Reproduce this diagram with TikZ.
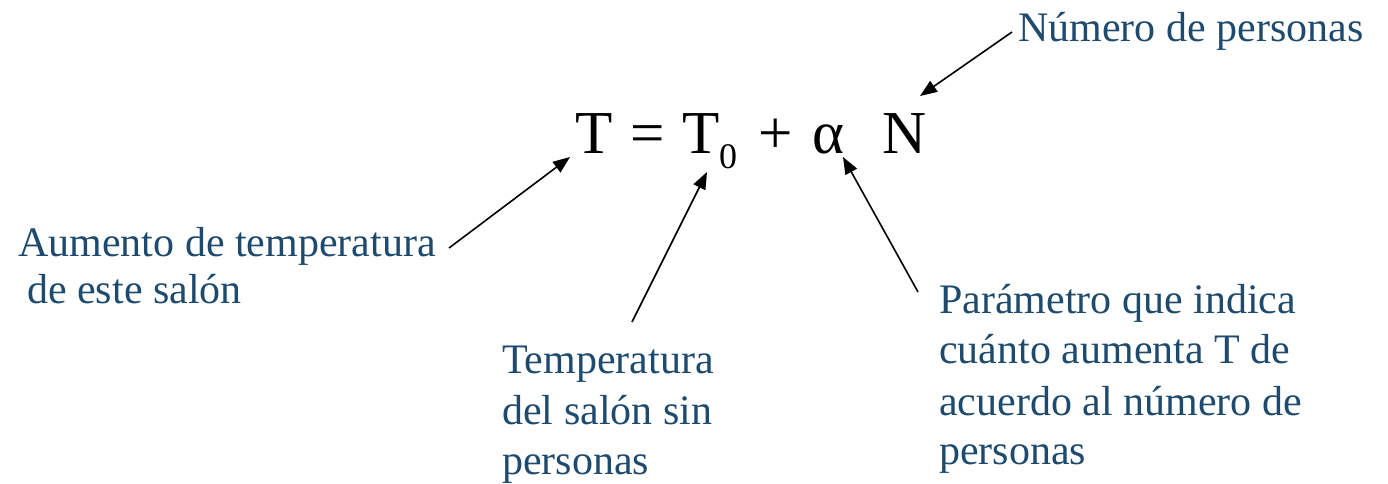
\documentclass[tikz,border=0pt]{standalone}
\usepackage{fontspec}
\setmainfont{Liberation Serif}
\usetikzlibrary{arrows.meta}
\definecolor{lblue}{RGB}{30,74,110}
\tikzset{
  lbl/.style={anchor=base west, inner sep=0pt, text=lblue, font=\fontsize{42}{50}\selectfont},
  eq/.style={anchor=base west, inner sep=0pt, text=black, font=\fontsize{61}{70}\selectfont},
  sub/.style={anchor=base west, inner sep=0pt, text=black, font=\fontsize{36}{40}\selectfont},
  pointer/.style={draw=black, line width=1.6pt, -{Triangle[length=17pt,width=13pt]}}
}
\begin{document}
\begin{tikzpicture}[x=1pt,y=-1pt]
\useasboundingbox (0,0) rectangle (1388,483);
% equation
\node[eq] (T) at (575,153) {T};
\node[eq] (eqs) at (630,153) {=};
\node[eq] (T0) at (682,153) {T};
\node[sub] (zero) at (719,168) {0};
\node[eq] (plus) at (758,153) {+};
\node[eq] (alpha) at (812,153) {α};
\node[eq] (N) at (882,153) {N};
% labels
\node[lbl] (num) at (1018,41) {Número de personas};
\node[lbl] (aum1) at (18,256) {Aumento de temperatura};
\node[lbl] (aum2) at (27,303) {de este salón};
\node[lbl] (tem1) at (502,373) {Temperatura};
\node[lbl] (tem2) at (502,424) {del salón sin};
\node[lbl] (tem3) at (502,474) {personas};
\node[lbl] (par1) at (939,313) {Parámetro que indica};
\node[lbl] (par2) at (939,363) {cuánto aumenta T de};
\node[lbl] (par3) at (939,415) {acuerdo al número de};
\node[lbl] (par4) at (939,464) {personas};
% arrow endpoints
\coordinate (nTail) at (1012,32);
\coordinate (nTip) at (920,96);
\coordinate (aTail) at (449,248);
\coordinate (aTip) at (570,157);
\coordinate (tTail) at (632,322);
\coordinate (tTip) at (707,172);
\coordinate (pTail) at (918,292);
\coordinate (pTip) at (843,157);
\draw[pointer] (nTail) -- (nTip);
\draw[pointer] (aTail) -- (aTip);
\draw[pointer] (tTail) -- (tTip);
\draw[pointer] (pTail) -- (pTip);
\end{tikzpicture}
\end{document}
